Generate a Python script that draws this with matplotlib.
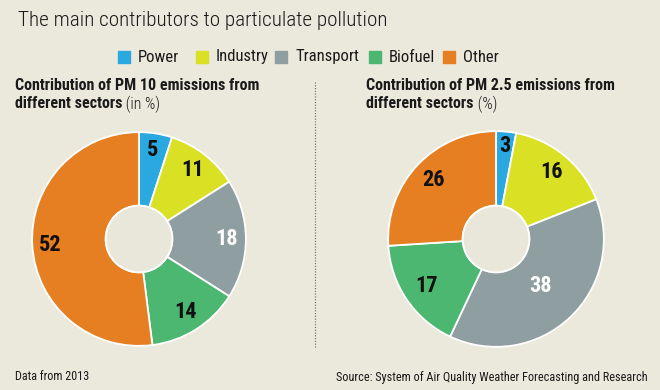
import matplotlib
matplotlib.use("Agg")
import numpy as np
import matplotlib.pyplot as plt
from matplotlib import font_manager as fm
from matplotlib.patches import Rectangle, Circle

# ---------------- data ----------------
categories = ["Power", "Industry", "Transport", "Biofuel", "Other"]
pm10 = [5, 11, 18, 14, 52]
pm25 = [3, 16, 38, 17, 26]
colors = ["#2aa8e0", "#dae024", "#8f9ea1", "#4bb771", "#e67e22"]
title = "The main contributors to particulate pollution"
sub_left = ("Contribution of PM 10 emissions from", "different sectors", " (in %)")
sub_right = ("Contribution of PM 2.5 emissions from", "different sectors", " (%)")
foot_left = "Data from 2013"
foot_right = "Source: System of Air Quality Weather Forecasting and Research"

BG = "#ebe8dc"
W, H = 660, 390

# pick a condensed font if available
names = {f.name for f in fm.fontManager.ttflist}
FONT = "DejaVu Sans"
STRETCH = "condensed"
for cand in ["Roboto Condensed", "Liberation Sans Narrow", "Open Sans Condensed",
             "Noto Sans Condensed"]:
    if cand in names:
        FONT = cand
        STRETCH = "normal"
        break

fig = plt.figure(figsize=(6.6, 3.9), dpi=100, facecolor=BG)


def T(x, y, s, **kw):
    kw.setdefault("family", FONT)
    kw.setdefault("stretch", STRETCH)
    kw.setdefault("color", "#1a1a1a")
    kw.setdefault("va", "center")
    return fig.text(x / W, 1 - y / H, s, **kw)


# title
T(18, 21, title, fontsize=15.2, ha="left", fontweight="light")

# legend
leg_x = [118, 196, 275, 369, 443]
for x, c, lab in zip(leg_x, colors, categories):
    fig.patches.append(Rectangle((x / W, 1 - 63 / H), 12 / W, 12 / H,
                                 transform=fig.transFigure, color=c, figure=fig))
    T(x + 20, 57, lab, fontsize=12, ha="left")

# subtitles
fig.canvas.draw()
renderer = fig.canvas.get_renderer()
for x0, sub in [(15, sub_left), (366, sub_right)]:
    T(x0, 85, sub[0], fontsize=11.5, fontweight="bold")
    t = T(x0, 104, sub[1], fontsize=11.5, fontweight="bold")
    bb = t.get_window_extent(renderer=renderer)
    T(bb.x1 * W / (fig.get_figwidth() * fig.dpi), 104, sub[2], fontsize=11.5,
      fontweight="light")

# dotted separator
fig.add_artist(plt.Line2D([315 / W, 315 / W], [1 - 82 / H, 1 - 348 / H],
                          transform=fig.transFigure, color="#666666",
                          linestyle=(0, (1, 1.5)), linewidth=0.8))

# footers
T(15, 377, foot_left, fontsize=8.7)
T(648, 377, foot_right, fontsize=8.8, ha="right")


def donut(cx, cy, r, values, label_r):
    ax = fig.add_axes([(cx - r) / W, 1 - (cy + r) / H, 2 * r / W, 2 * r / H])
    ax.set_facecolor("none")
    wedges, _ = ax.pie(values, colors=colors, startangle=90, counterclock=False,
                       radius=1, wedgeprops=dict(width=1 - 34 / r, edgecolor="white",
                                                 linewidth=1.3))
    ax.add_patch(Circle((0, 0), 34 / r, facecolor="#e9e6da", edgecolor="white",
                        linewidth=1.3, zorder=3))
    for w, v, lr, cat in zip(wedges, values, label_r, categories):
        ang = np.deg2rad((w.theta1 + w.theta2) / 2)
        col = "white" if cat == "Transport" else "#111111"
        ax.text(lr * np.cos(ang), lr * np.sin(ang), str(v), ha="center", va="center",
                fontsize=16, fontweight="bold", color=col, family=FONT, stretch=STRETCH)
    ax.set_xlim(-1.02, 1.02)
    ax.set_ylim(-1.02, 1.02)
    ax.set_aspect("equal")
    ax.axis("off")


donut(139, 239, 109, pm10, [0.84, 0.82, 0.82, 0.81, 0.83])
donut(496, 239, 110, pm25, [0.87, 0.81, 0.60, 0.78, 0.80])

fig.savefig("out.png", dpi=100, facecolor=BG)
